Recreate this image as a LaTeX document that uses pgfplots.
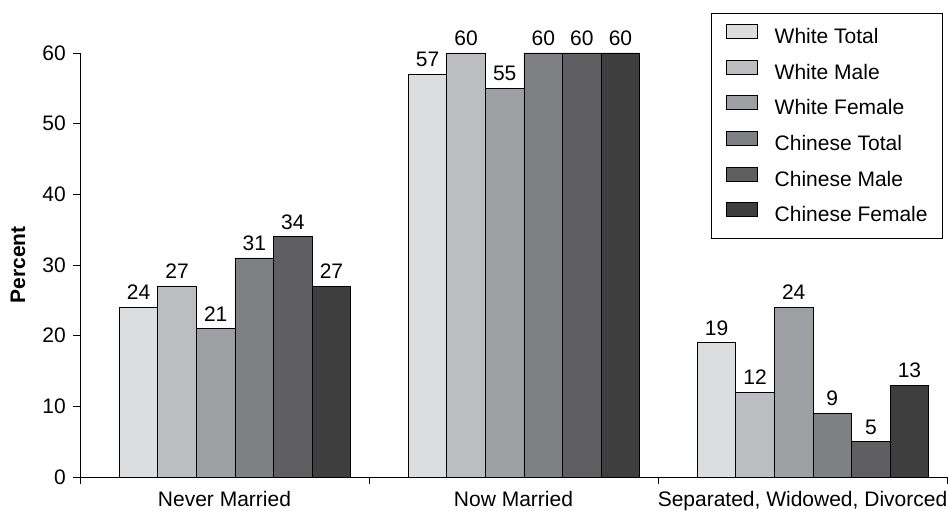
\documentclass[border=0pt]{standalone}
\usepackage{fontspec}
\setmainfont{Liberation Sans}
\usepackage{pgfplots}
\pgfplotsset{compat=1.18}
\definecolor{cA}{HTML}{DCDDDF}
\definecolor{cB}{HTML}{BCBDC0}
\definecolor{cC}{HTML}{9E9FA2}
\definecolor{cD}{HTML}{7F8083}
\definecolor{cE}{HTML}{5F5F62}
\definecolor{cF}{HTML}{3E3E3F}
\pgfplotsset{
  mybar/.style={ybar, bar width=0.1335, bar shift=0pt, fill=#1, draw=black, line width=0.8pt,
    legend image code/.code={\draw[fill=#1,draw=black,line width=0.8pt] (3pt,0pt) rectangle (34pt,14pt);}},
}
\begin{document}
\fontsize{21}{25}\selectfont
\begin{tikzpicture}
\path[use as bounding box] (-80pt,-34pt) rectangle (868pt,477pt);
\begin{axis}[
  scale only axis, width=867pt, height=424pt,
  xmin=0, xmax=3, ymin=0, ymax=60,
  axis x line*=bottom, axis y line*=left,
  axis line style={-, line width=0.8pt},
  tick style={line width=0.8pt, black},
  tick align=outside, major tick length=7pt,
  ytick={0,10,...,60},
  xtick={0,1,2,3}, xticklabels={},
  extra x ticks={0.5,1.5,2.5},
  extra x tick labels={Never Married, Now Married, {Separated, Widowed, Divorced}},
  extra x tick style={major tick length=0pt, tick label style={yshift=-7pt}},
  /pgf/number format/assume math mode=true,
  ylabel={\bfseries Percent},
  every axis y label/.style={at={(axis description cs:-0.0715,0.5)}, rotate=90, anchor=center},
  nodes near coords,
  every node near coord/.append style={font=\fontsize{21}{25}\selectfont, black},
  clip=false,
  legend style={at={(axis description cs:0.9954,1.0943)}, anchor=north east,
    draw=black, line width=0.8pt, inner xsep=15pt, inner ysep=10.5pt,
    row sep=9.5pt, column sep=17pt,
    nodes={inner xsep=0pt, inner ysep=2pt, text height=15pt, text depth=4.5pt, anchor=west},
    font=\fontsize{21}{25}\selectfont},
  legend cell align=left,
]
\addplot[mybar=cA] coordinates {(0.2025,24) (1.2025,57) (2.2025,19)};
\addplot[mybar=cB] coordinates {(0.336,27) (1.336,60) (2.336,12)};
\addplot[mybar=cC] coordinates {(0.4695,21) (1.4695,55) (2.4695,24)};
\addplot[mybar=cD] coordinates {(0.603,31) (1.603,60) (2.603,9)};
\addplot[mybar=cE] coordinates {(0.7365,34) (1.7365,60) (2.7365,5)};
\addplot[mybar=cF] coordinates {(0.870,27) (1.870,60) (2.870,13)};
\legend{White Total, White Male, White Female, Chinese Total, Chinese Male, Chinese Female}
\end{axis}
\end{tikzpicture}
\end{document}
